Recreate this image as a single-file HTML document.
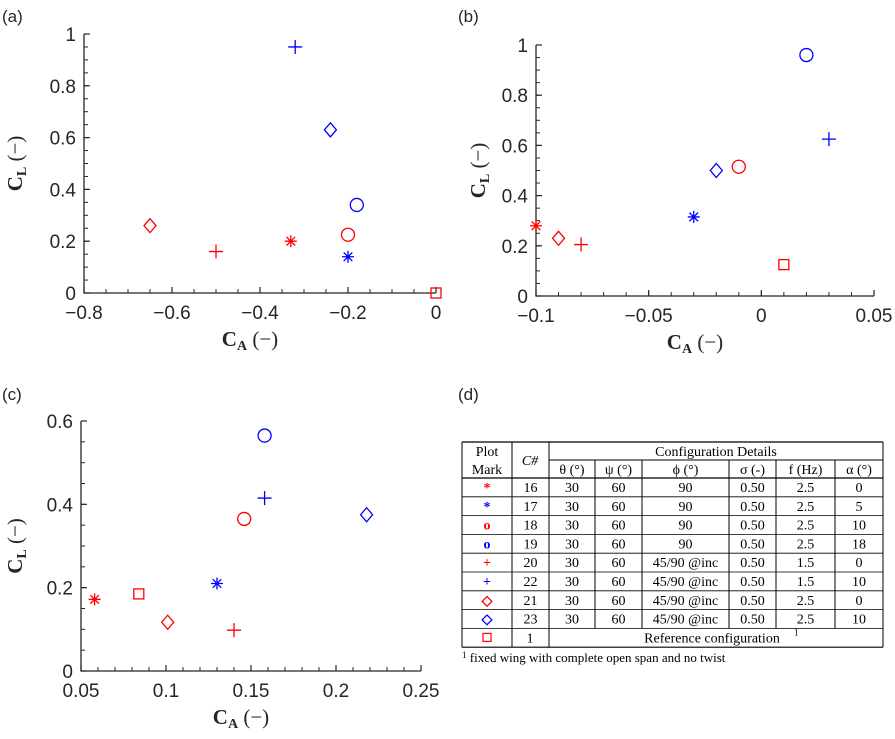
<!DOCTYPE html>
<html><head><meta charset="utf-8"><style>
body{margin:0;background:#fff;width:895px;height:734px;overflow:hidden}
svg{font-family:"Liberation Sans",sans-serif}
.tk{font-size:19px;fill:#262626}
.tt{font-family:"Liberation Serif",serif;font-weight:bold;font-size:21px;fill:#262626}
.tb{font-family:"Liberation Serif",serif;font-size:14px;fill:#000}
</style></head><body>
<svg id="fig" width="895" height="734">
<text x="2" y="22" font-size="17" fill="#262626">(a)</text>
<text x="458" y="22" font-size="17" fill="#262626">(b)</text>
<text x="2" y="400" font-size="17" fill="#262626">(c)</text>
<text x="458" y="400" font-size="17" fill="#262626">(d)</text>
<g id="plots"></g>
<g id="table"></g>
</svg>
<script>
const markTypes=["star","star","circle","circle","plus","plus","diamond","diamond","square"];
const markColors=["red","blue","red","blue","red","blue","red","blue","red"];
const aCA=[-0.33,-0.2,-0.2,-0.18,-0.5,-0.32,-0.65,-0.24,0];
const aCL=[0.2,0.14,0.225,0.34,0.16,0.95,0.26,0.63,0];
const bCA=[-0.1,-0.03,-0.01,0.02,-0.08,0.03,-0.09,-0.02,0.01];
const bCL=[0.28,0.315,0.515,0.96,0.205,0.625,0.23,0.5,0.125];
const cCA=[0.058,0.13,0.146,0.158,0.14,0.158,0.101,0.218,0.084];
const cCL=[0.172,0.21,0.365,0.565,0.098,0.415,0.117,0.375,0.185];
const aXTicks=["−0.8","−0.6","−0.4","−0.2","0"];
const bXTicks=["−0.1","−0.05","0","0.05"];
const cXTicks=["0.05","0.1","0.15","0.2","0.25"];
const NS="http://www.w3.org/2000/svg";
const root=document.getElementById('plots');
function el(t,a,p){const e=document.createElementNS(NS,t);for(const k in a)e.setAttribute(k,a[k]);(p||root).appendChild(e);return e;}
const COL={red:"#ff0000",blue:"#0000ff"};
function panel(o){
  const g=el('g',{});
  
  
  const sx=v=>o.px0+(v-o.x0)/(o.x1-o.x0)*(o.px1-o.px0);
  const sy=v=>o.py0+(v-o.y0)/(o.y1-o.y0)*(o.py1-o.py0);
  const ax=el('path',{d:`M${o.px0},${o.py1}V${o.py0}H${o.px1}`,stroke:'#262626','stroke-width':1.3,fill:'none'},g);
  
  
  for(let v=o.x0;v<=o.x1+1e-9;v+=o.xm){el('line',{x1:sx(v),x2:sx(v),y1:o.py0,y2:o.py0-4,stroke:'#262626','stroke-width':1},g);}
  for(let v=o.y0;v<=o.y1+1e-9;v+=o.ym){el('line',{x1:o.px0,x2:o.px0+4,y1:sy(v),y2:sy(v),stroke:'#262626','stroke-width':1},g);}
  o.xt.forEach((s,i)=>{const v=o.x0+i*o.xs;
    el('line',{x1:sx(v),x2:sx(v),y1:o.py0,y2:o.py0-6,stroke:'#262626','stroke-width':1.2},g);
    const t=el('text',{x:sx(v),y:o.py0+26,'text-anchor':'middle',class:'tk'},g);t.textContent=s;
    
    });
  for(let i=0;i<=o.yn;i++){const v=o.y0+i*o.ys;
    el('line',{x1:o.px0,x2:o.px0+6,y1:sy(v),y2:sy(v),stroke:'#262626','stroke-width':1.2},g);
    const t=el('text',{x:o.px0-8,y:sy(v)+7,'text-anchor':'end',class:'tk'},g);t.textContent=o.yl[i];
    
    }
  const xt=el('text',{x:(o.px0+o.px1)/2-10,y:o.py0+53,'text-anchor':'middle',class:'tt'},g);
  xt.innerHTML='C<tspan font-size="14" dy="4">A</tspan><tspan dy="-4" font-weight="normal"> (−)</tspan>';
  
  
  const cy=(o.py0+o.py1)/2;
  const yt=el('text',{x:0,y:0,'text-anchor':'middle',class:'tt',transform:`translate(${o.ytx},${cy}) rotate(-90)`},g);
  yt.innerHTML='C<tspan font-size="14" dy="4">L</tspan><tspan dy="-4" font-weight="normal"> (−)</tspan>';
  
  
  o.ca.forEach((v,i)=>{drawMark(g,markTypes[i],COL[markColors[i]],sx(v),sy(o.cl[i]));});
}
function drawMark(g,t,c,x,y){
  let e;const a={stroke:c,fill:'none','stroke-width':1.3};
  if(t==='circle')e=el('circle',Object.assign({cx:x,cy:y,r:6.5},a),g);
  else if(t==='diamond')e=el('path',Object.assign({d:`M${x},${y-7}L${x+6},${y}L${x},${y+7}L${x-6},${y}Z`},a),g);
  else if(t==='plus')e=el('path',Object.assign({d:`M${x-7},${y}H${x+7}M${x},${y-7}V${y+7}`},a),g);
  else if(t==='square')e=el('rect',Object.assign({x:x-5,y:y-5,width:10,height:10},a),g);
  else{const r=6;e=el('path',Object.assign({d:`M${x-r},${y}H${x+r}M${x},${y-r}V${y+r}M${x-4.3},${y-4.3}L${x+4.3},${y+4.3}M${x-4.3},${y+4.3}L${x+4.3},${y-4.3}`},a),g);}
  
  
}
panel({id:'a',x0:-0.8,x1:0,px0:84,px1:436,y0:0,y1:1,py0:293,py1:34,xs:0.2,xt:aXTicks,xm:0.05,ys:0.2,yn:5,yl:["0","0.2","0.4","0.6","0.8","1"],ym:0.05,ca:aCA,cl:aCL,ytx:22});
panel({id:'b',x0:-0.1,x1:0.05,px0:536,px1:874,y0:0,y1:1,py0:296,py1:45,xs:0.05,xt:bXTicks,xm:0.01,ys:0.2,yn:5,yl:["0","0.2","0.4","0.6","0.8","1"],ym:0.05,ca:bCA,cl:bCL,ytx:485});
panel({id:'c',x0:0.05,x1:0.25,px0:81,px1:421,y0:0,y1:0.6,py0:671,py1:421,xs:0.05,xt:cXTicks,xm:0.01,ys:0.2,yn:3,yl:["0","0.2","0.4","0.6"],ym:0.05,ca:cCA,cl:cCL,ytx:22});

const T=document.getElementById('table');
const cx=[462,512,549,595,642,729,776,835,883];
const rows=[["16","30","60","90","0.50","2.5","0"],["17","30","60","90","0.50","2.5","5"],["18","30","60","90","0.50","2.5","10"],["19","30","60","90","0.50","2.5","18"],["20","30","60","45/90 @inc","0.50","1.5","0"],["22","30","60","45/90 @inc","0.50","1.5","10"],["21","30","60","45/90 @inc","0.50","2.5","0"],["23","30","60","45/90 @inc","0.50","2.5","10"]];
const rmarks=[["*","red"],["*","blue"],["o","red"],["o","blue"],["+","red"],["+","blue"],["◇","red"],["◇","blue"]];
function ln(x1,y1,x2,y2,w){el('line',{x1,y1,x2,y2,stroke:'#000','stroke-width':w||1},T);}
function tx(x,y,s,extra){const t=el('text',Object.assign({x,y,'text-anchor':'middle',class:'tb'},extra||{}),T);t.textContent=s;return t;}
const tblTop=442,hm=460,hb=478,rh=18.8;
ln(462,tblTop,883,tblTop,1.2);ln(549,hm,883,hm);ln(462,hb,883,hb,1.2);
for(let i=1;i<=9;i++)ln(462,hb+i*rh,883,hb+i*rh,i==9?1.2:0.8);
[462,512,549,883].forEach(x=>ln(x,tblTop,x,hb+9*rh));
cx.slice(3,8).forEach(x=>ln(x,hm,x,hb+8*rh));
tx(487,456,"Plot");tx(487,474,"Mark");tx(530,465,"C#",{'font-style':'italic'});
tx(716,456,"Configuration Details");
["θ (°)","ψ (°)","ϕ (°)","σ (-)","f (Hz)","α (°)"].forEach((s,i)=>tx((cx[i+2]+cx[i+3])/2,474,s));
rows.forEach((r,j)=>{const y=hb+j*rh+14;
  const c=rmarks[j][1]==='red'?'#f00':'#00f';
  tx(487,y,rmarks[j][0],{style:'fill:'+c+';font-weight:bold'});
  r.forEach((s,i)=>tx((cx[i+1]+cx[i+2])/2,y,s));});
const yLast=hb+8*rh;
el('rect',{x:483,y:yLast+5,width:8,height:8,fill:'none',stroke:'#f00','stroke-width':1.2},T);
tx(530,yLast+14,"1");
tx(712,yLast+14,"Reference configuration");
el('text',{x:794,y:yLast+7,class:'tb',style:'font-size:9px'},T).textContent="1";
const fn=el('text',{x:462,y:662,class:'tb',style:'font-size:13px'},T);
fn.innerHTML='<tspan style="font-size:9px" dy="-4">1</tspan><tspan dy="4"> fixed wing with complete open span and no twist</tspan>';
</script>
</body></html>
